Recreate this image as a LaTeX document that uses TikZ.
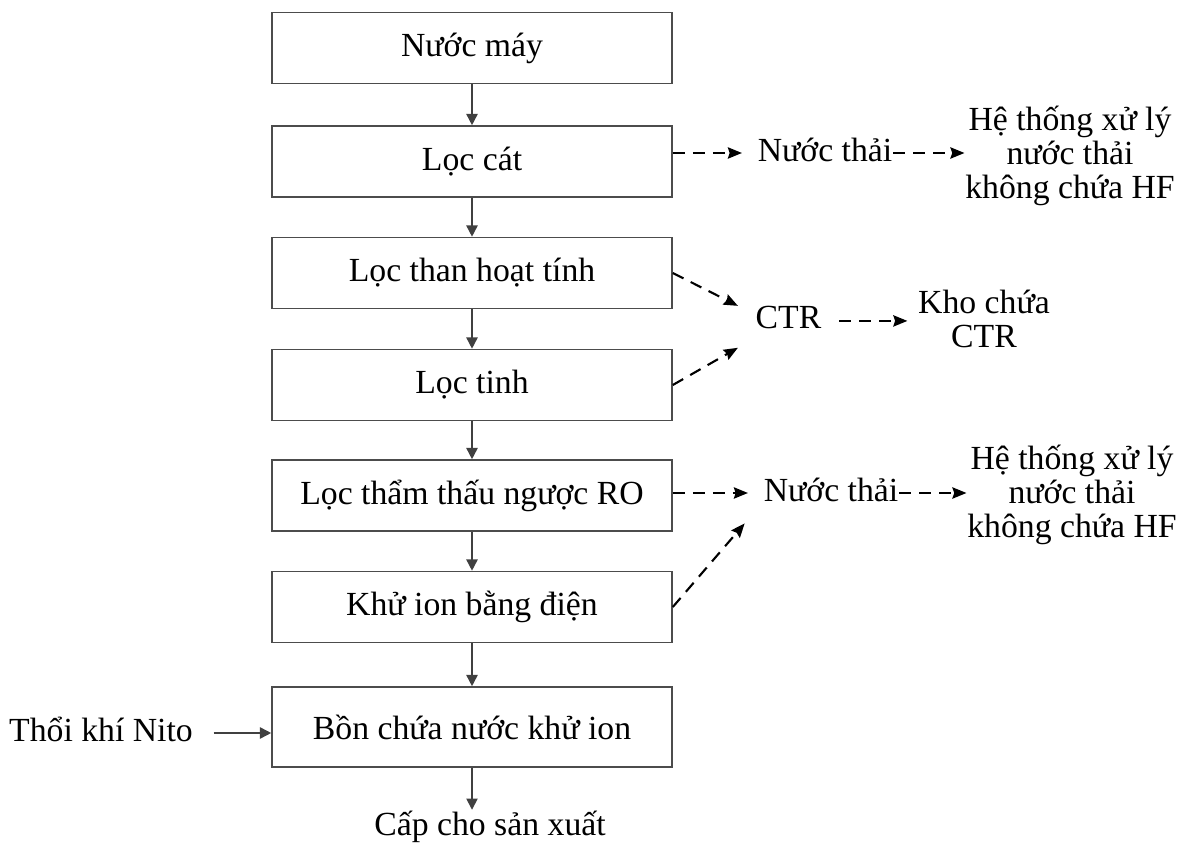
\documentclass[tikz,border=0pt]{standalone}
\usepackage{fontspec}
\setmainfont{Liberation Serif}
\usetikzlibrary{arrows.meta,calc}

\begin{document}
\begin{tikzpicture}[
  font=\fontsize{9.6}{9.7}\selectfont,
  line width=0.45pt,
  % Process steps of the main column: all the same width.
  box/.style={draw=black!70,minimum width=4cm,minimum height=0.71cm,inner sep=0pt},
  % Free labels beside the column (by-products, destinations).
  lbl/.style={inner sep=0pt,align=center},
  % Main water path: solid grey; by-products: dashed black.
  flow/.style={draw=black!75,-{Triangle[length=3.2pt,width=3.2pt]}},
  waste/.style={line width=0.6pt,dash pattern=on 3.4pt off 2.3pt,
                -{Stealth[length=4pt,width=3.2pt,inset=0.5pt]}},
]
\useasboundingbox (0,0) rectangle (11.81,-8.61);

%--- geometry ----------------------------------------------------------------
\def\xbox{4.72}        % centre line of the treatment column
\def\xside{8.25}       % first column of side labels
\def\xdest{10.70}      % destinations on the far right

%--- treatment column --------------------------------------------------------
\node[box] (nuoc)    at (\xbox,-0.48)  {Nước máy};
\node[box] (locCat)  at (\xbox,-1.615) {Lọc cát};
\node[box] (locThan) at (\xbox,-2.73)  {Lọc than hoạt tính};
\node[box] (locTinh) at (\xbox,-3.85)  {Lọc tinh};
\node[box] (ro)      at (\xbox,-4.955) {Lọc thẩm thấu ngược RO};
\node[box] (khu)     at (\xbox,-6.07)  {Khử ion bằng điện};
\node[box,minimum height=0.80cm] (bon) at (\xbox,-7.27) {Bồn chứa nước khử ion};

\foreach \a/\b in {nuoc/locCat, locCat/locThan, locThan/locTinh,
                   locTinh/ro, ro/khu, khu/bon} {
  \draw[flow] (\a) -- (\b);
}

%--- nitrogen purge in, product out ------------------------------------------
\node[lbl,anchor=mid]  (nito) at (1.01,-7.33) {Thổi khí Nito};
\node[lbl,anchor=base] (cap)  at (4.90,-8.35) {Cấp cho sản xuất};
\draw[flow,shorten <=2mm] (nito.mid east) -- (nito.mid east -| bon.west);
\draw[flow] (bon) -- (bon.south |- cap.north);

%--- waste water from the sand filter ----------------------------------------
\node[lbl,anchor=mid] (nt1) at (\xside,-1.53) {Nước thải};
\node[lbl] (ht1) at (\xdest,-1.56) {Hệ thống xử lý\\nước thải\\không chứa HF};
\draw[waste,shorten >=1.5mm] (locCat.east |- nt1.mid) -- (nt1.mid west);
\draw[waste] (nt1.mid east) -- (nt1.mid east -| ht1.west);

%--- spent media (CTR) to storage --------------------------------------------
% Depth padding below the text so the two arrows meet its corners.
\node[lbl,inner xsep=1.7mm,text depth=1.8mm,anchor=base] (ctr) at (7.885,-3.29) {CTR};
\node[lbl,inner xsep=1mm] (kho) at (9.84,-3.19) {Kho chứa\\CTR};
\draw[waste] (locThan.east) -- (ctr.north west);
\draw[waste] (locTinh.east) -- (ctr.south west);
\draw[waste] (ctr.mid east) -- (ctr.mid east -| kho.west);

%--- reject water from RO and EDI --------------------------------------------
\node[lbl,anchor=mid] (nt2) at (8.31,-4.93) {Nước thải};
\node[lbl] (ht2) at (10.72,-4.95) {Hệ thống xử lý\\nước thải\\không chứa HF};
\draw[waste,shorten >=1.5mm] (ro.east |- nt2.mid) -- (nt2.mid west);
\draw[waste,shorten >=2.8mm] (khu.east) -- (nt2.south west);
\draw[waste] (nt2.mid east) -- (nt2.mid east -| ht2.west);

\end{tikzpicture}
\end{document}
